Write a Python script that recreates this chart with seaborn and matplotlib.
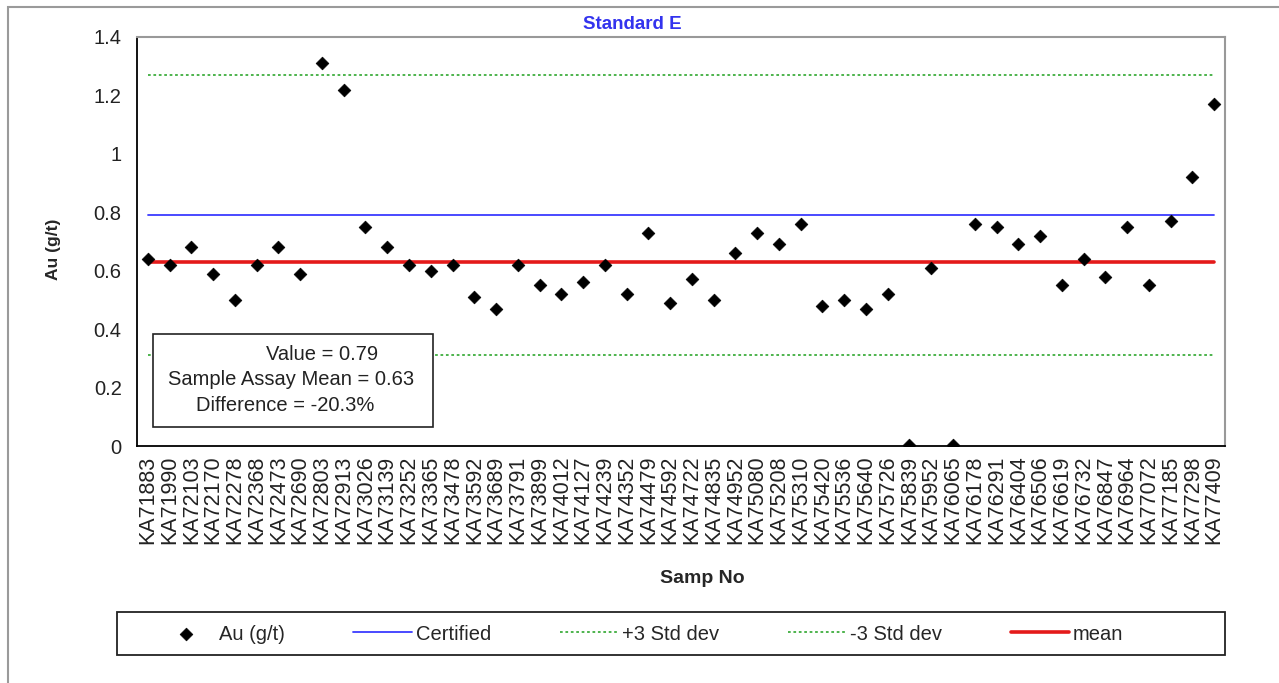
"""
Standard E control chart (Au g/t per sample).
"""
import numpy as np
import pandas as pd
import matplotlib.pyplot as plt
import seaborn as sns
from matplotlib.patches import Rectangle
from matplotlib.ticker import FixedLocator

sample_ids = [
    "KA71883", "KA71990", "KA72103", "KA72170", "KA72278", "KA72368", "KA72473",
    "KA72690", "KA72803", "KA72913", "KA73026", "KA73139", "KA73252", "KA73365",
    "KA73478", "KA73592", "KA73689", "KA73791", "KA73899", "KA74012", "KA74127",
    "KA74239", "KA74352", "KA74479", "KA74592", "KA74722", "KA74835", "KA74952",
    "KA75080", "KA75208", "KA75310", "KA75420", "KA75536", "KA75640", "KA75726",
    "KA75839", "KA75952", "KA76065", "KA76178", "KA76291", "KA76404", "KA76506",
    "KA76619", "KA76732", "KA76847", "KA76964", "KA77072", "KA77185", "KA77298",
    "KA77409",
]
au_values = [
    0.64, 0.62, 0.68, 0.59, 0.50, 0.62, 0.68, 0.59, 1.31, 1.22,
    0.75, 0.68, 0.62, 0.60, 0.62, 0.51, 0.47, 0.62, 0.55, 0.52,
    0.56, 0.62, 0.52, 0.73, 0.49, 0.57, 0.50, 0.66, 0.73, 0.69,
    0.76, 0.48, 0.50, 0.47, 0.52, 0.005, 0.61, 0.005, 0.76, 0.75,
    0.69, 0.72, 0.55, 0.64, 0.58, 0.75, 0.55, 0.77, 0.92, 1.17,
]
certified = 0.79
plus_3sd = 1.27
minus_3sd = 0.31
assay_mean = 0.63
difference_pct = -20.3

df = pd.DataFrame({"sample": sample_ids, "au": au_values})
n = len(df)

sns.set_style("white")
plt.rcParams["font.family"] = ["Liberation Sans", "DejaVu Sans"]

fig = plt.figure(figsize=(12.79, 6.83), dpi=100)
ax = fig.add_axes([137 / 1279, 1 - 446 / 683, 1088 / 1279, 409 / 683])

# reference lines across the samples
sns.lineplot(x=df["sample"], y=[certified] * n, ax=ax, color="#3c3cff",
             linewidth=1.3, label="Certified", sort=False)
sns.lineplot(x=df["sample"], y=[plus_3sd] * n, ax=ax, color="#3fae3f",
             linewidth=1.3, linestyle=(0, (1.5, 1.5)), label="+3 Std dev", sort=False)
sns.lineplot(x=df["sample"], y=[minus_3sd] * n, ax=ax, color="#3fae3f",
             linewidth=1.3, linestyle=(0, (1.5, 1.5)), label="-3 Std dev", sort=False)
sns.lineplot(x=df["sample"], y=[assay_mean] * n, ax=ax, color="#e41a1a",
             linewidth=2.6, label="mean", sort=False)
sns.scatterplot(data=df, x="sample", y="au", ax=ax, marker="D", s=42,
                color="black", edgecolor="black", linewidth=0.5,
                label="Au (g/t)", zorder=5)

ax.set_xlim(-0.5, n - 0.5)
ax.set_ylim(0, 1.4)
ax.set_yticks(np.arange(0, 1.41, 0.2))
ax.set_yticklabels(["0", "0.2", "0.4", "0.6", "0.8", "1", "1.2", "1.4"], fontsize=14.5)
ax.set_xticks(range(n))
ax.set_xticklabels(sample_ids, rotation=90, fontsize=15.5)
ax.xaxis.set_minor_locator(FixedLocator(np.arange(-0.5, n, 1.0)))
ax.tick_params(axis="x", which="major", length=0, pad=7)
ax.tick_params(axis="x", which="minor", length=6, width=1.2, direction="out", color="black")
ax.tick_params(axis="y", length=6, width=1.2, direction="out", color="black", pad=5)
ax.tick_params(colors="#222222", which="both")

for side in ["left", "bottom"]:
    ax.spines[side].set_color("black")
    ax.spines[side].set_linewidth(1.3)
for side in ["top", "right"]:
    ax.spines[side].set_color("#999999")
    ax.spines[side].set_linewidth(1.5)

ax.set_xlabel("Samp No", fontsize=14, fontweight="bold")
ax.xaxis.set_label_coords(0.52, -0.303)
ax.set_ylabel("Au (g/t)", fontsize=12.5, fontweight="bold")
ax.yaxis.set_label_coords(-0.07, 0.48)
ax.set_title("Standard E", fontsize=13.5, fontweight="bold", color="#3333ee", pad=6)
ax.title.set_position((0.455, 1.0))

# annotation box
ax.add_patch(Rectangle((0.0147, 0.047), 0.257, 0.228, transform=ax.transAxes,
                       facecolor="white", edgecolor="#222222", linewidth=1.2, zorder=6))
ax.text(0.17, 0.224, f"Value = {certified:.2f}", transform=ax.transAxes,
        ha="center", va="center", fontsize=14.5, color="#222222", zorder=7)
ax.text(0.142, 0.163, f"Sample Assay Mean = {assay_mean:.2f}", transform=ax.transAxes,
        ha="center", va="center", fontsize=14.5, color="#222222", zorder=7)
ax.text(0.136, 0.1, f"Difference = {difference_pct:.1f}%", transform=ax.transAxes,
        ha="center", va="center", fontsize=14.5, color="#222222", zorder=7)

# legend at the bottom
handles, labels = ax.get_legend_handles_labels()
order = [labels.index(k) for k in ["Au (g/t)", "Certified", "+3 Std dev", "-3 Std dev", "mean"]]
ax.get_legend().remove()
leg = fig.legend([handles[i] for i in order], [labels[i] for i in order],
                 loc="center", ncol=5, bbox_to_anchor=(640 / 1279, 1 - 634 / 683),
                 fontsize=14.5, frameon=False, handlelength=2.9,
                 handletextpad=0.2, columnspacing=3.4)
fig.patches.append(Rectangle((117 / 1279, 1 - 655 / 683), 1108 / 1279, 43 / 683,
                             transform=fig.transFigure, fill=False,
                             edgecolor="#222222", linewidth=1.3))

# outer chart border
fig.patches.append(Rectangle((8 / 1279, -0.1), 1.2, 1 - 7 / 683 + 0.1,
                             transform=fig.transFigure, fill=False,
                             edgecolor="#9a9a9a", linewidth=1.5))

fig.savefig("out.png", dpi=100)
